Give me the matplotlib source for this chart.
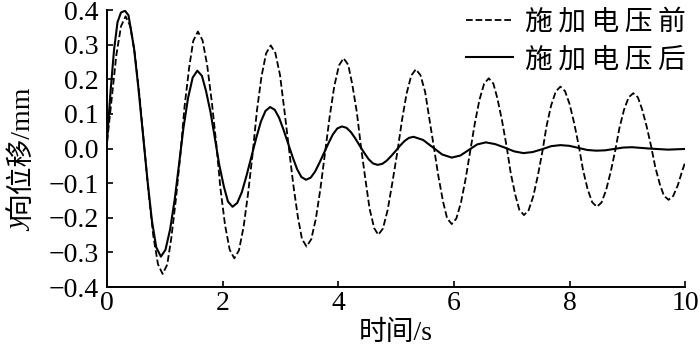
import matplotlib
matplotlib.use("Agg")
import matplotlib.pyplot as plt

# 施加电压前 (dashed), values
t_before = [0.00, 0.08, 0.16, 0.24, 0.32,
            0.40, 0.48, 0.56, 0.64, 0.72, 0.80, 0.88, 0.96,
            1.04, 1.11, 1.19, 1.27, 1.34, 1.42, 1.49, 1.57,
            1.65, 1.73, 1.81, 1.89, 1.96, 2.04, 2.12, 2.20,
            2.28, 2.36, 2.44, 2.52, 2.59, 2.67, 2.75, 2.83,
            2.91, 2.99, 3.06, 3.14, 3.22, 3.30, 3.37, 3.45,
            3.53, 3.61, 3.69, 3.77, 3.85, 3.93, 4.01, 4.09,
            4.17, 4.24, 4.32, 4.39, 4.47, 4.54, 4.62, 4.69,
            4.77, 4.85, 4.93, 5.02, 5.10, 5.18, 5.26, 5.34,
            5.42, 5.50, 5.57, 5.65, 5.73, 5.81, 5.88, 5.96,
            6.04, 6.12, 6.20, 6.28, 6.36, 6.44, 6.52, 6.60,
            6.68, 6.75, 6.83, 6.91, 6.98, 7.06, 7.13, 7.21,
            7.29, 7.37, 7.45, 7.53, 7.60, 7.68, 7.76, 7.84,
            7.92, 8.00, 8.08, 8.16, 8.23, 8.31, 8.39, 8.47,
            8.55, 8.63, 8.71, 8.79, 8.86, 8.94, 9.02, 9.10,
            9.18, 9.25, 9.33, 9.41, 9.48, 9.56, 9.63, 9.71,
            9.79, 9.87, 9.94, 10.00]
y_before = [0.020, 0.146, 0.270, 0.353, 0.382,
            0.354, 0.273, 0.152, 0.010, -0.132, -0.253, -0.334, -0.362,
            -0.335, -0.259, -0.146, -0.012, 0.122, 0.235, 0.311, 0.338,
            0.313, 0.242, 0.136, 0.011, -0.115, -0.221, -0.292, -0.317,
            -0.294, -0.227, -0.127, -0.010, 0.108, 0.208, 0.275, 0.298,
            0.276, 0.213, 0.119, 0.008, -0.104, -0.198, -0.261, -0.283,
            -0.262, -0.203, -0.115, -0.011, 0.093, 0.181, 0.240, 0.261,
            0.242, 0.186, 0.104, 0.006, -0.092, -0.174, -0.230, -0.249,
            -0.231, -0.179, -0.102, -0.010, 0.082, 0.159, 0.211, 0.229,
            0.212, 0.164, 0.091, 0.006, -0.080, -0.153, -0.201, -0.218,
            -0.202, -0.156, -0.088, -0.008, 0.073, 0.141, 0.187, 0.203,
            0.188, 0.145, 0.081, 0.006, -0.070, -0.134, -0.177, -0.192,
            -0.178, -0.138, -0.078, -0.007, 0.065, 0.125, 0.165, 0.179,
            0.166, 0.128, 0.072, 0.006, -0.061, -0.117, -0.155, -0.168,
            -0.156, -0.120, -0.067, -0.004, 0.059, 0.112, 0.148, 0.160,
            0.148, 0.115, 0.065, 0.006, -0.053, -0.103, -0.136, -0.148,
            -0.137, -0.106, -0.068, -0.038]

# 施加电压后 (solid)
t_after = [0.00, 0.06, 0.12, 0.18, 0.24, 0.31, 0.37,
           0.465, 0.54, 0.62, 0.70, 0.775, 0.85, 0.93,
           1.01, 1.09, 1.17, 1.245, 1.32, 1.40, 1.48, 1.56,
           1.64, 1.71, 1.79, 1.865, 1.94, 2.02, 2.09, 2.17,
           2.25, 2.33, 2.41, 2.495, 2.58, 2.66, 2.74, 2.82,
           2.90, 2.975, 3.05, 3.13, 3.21, 3.285, 3.36, 3.44,
           3.52, 3.595, 3.67, 3.75, 3.83, 3.905, 3.98, 4.06,
           4.14, 4.215, 4.29, 4.37, 4.45, 4.525, 4.60, 4.68,
           4.76, 4.835, 4.91, 4.99, 5.07, 5.145, 5.22, 5.30,
           5.465, 5.63, 5.795, 5.96,
           6.11, 6.255, 6.40, 6.55,
           6.71, 6.875, 7.04, 7.20,
           7.36, 7.52, 7.68, 7.84,
           7.995, 8.15, 8.305, 8.46,
           8.615, 8.77, 8.925, 9.08,
           9.39, 9.70, 10.00]
y_after = [0.025, 0.166, 0.285, 0.365, 0.393, 0.398, 0.385,
           0.291, 0.177, 0.042, -0.094, -0.208, -0.285, -0.312,
           -0.292, -0.233, -0.146, -0.044, 0.059, 0.146, 0.205, 0.225,
           0.210, 0.167, 0.104, 0.029, -0.047, -0.110, -0.153, -0.168,
           -0.157, -0.126, -0.079, -0.024, 0.031, 0.078, 0.109, 0.120,
           0.112, 0.089, 0.055, 0.015, -0.025, -0.059, -0.082, -0.090,
           -0.084, -0.067, -0.042, -0.013, 0.016, 0.041, 0.058, 0.064,
           0.060, 0.048, 0.030, 0.008, -0.013, -0.031, -0.043, -0.047,
           -0.044, -0.035, -0.022, -0.007, 0.009, 0.022, 0.031, 0.034,
           0.025, 0.004, -0.017, -0.026,
           -0.020, -0.004, 0.012, 0.018,
           0.013, 0.003, -0.008, -0.013,
           -0.010, -0.002, 0.007, 0.010,
           0.008, 0.002, -0.004, -0.006,
           -0.005, -0.001, 0.003, 0.004,
           0.000, -0.003, -0.001]

labels = ["施加电压前", "施加电压后"]
x_ticks = [0, 2, 4, 6, 8, 10]
y_ticks = [-0.4, -0.3, -0.2, -0.1, 0.0, 0.1, 0.2, 0.3, 0.4]
y_tick_labels = ["\u22120.4", "\u22120.3", "\u22120.2", "\u22120.1", "0.0",
                 "0.1", "0.2", "0.3", "0.4"]

FAMILY = ["Liberation Serif", "Noto Sans CJK SC"]
FS = 20


def spaced(s):
    # the reference sets its legend labels with a little letter spacing
    return "\u2009".join(s)


def main():
    plt.rcParams["font.family"] = FAMILY
    plt.rcParams["font.size"] = FS

    fig = plt.figure(figsize=(7, 3.48), dpi=100)
    ax = fig.add_axes([0.153, 0.175, 0.826, 0.796])

    ax.plot(t_before, y_before, color="black", linestyle="--",
            linewidth=1.3, label=spaced(labels[0]))
    ax.plot(t_after, y_after, color="black", linestyle="-",
            linewidth=1.5, label=spaced(labels[1]))

    ax.set_xlim(0, 10)
    ax.set_ylim(-0.4, 0.4)
    ax.set_xticks(x_ticks)
    ax.set_yticks(y_ticks)
    ax.set_yticklabels(y_tick_labels)

    for side in ("top", "right"):
        ax.spines[side].set_visible(False)
    for side in ("left", "bottom"):
        ax.spines[side].set_linewidth(1.4)
    ax.tick_params(direction="in", length=4, width=1.2, labelsize=FS)
    ax.tick_params(axis="y", pad=6)
    ax.tick_params(axis="x", pad=3)

    ax.set_xlabel("时间/s", fontsize=FS, labelpad=3)
    ax.set_ylabel("向位移/mm", fontsize=FS)
    ax.yaxis.set_label_coords(-0.128, 0.49)
    # italic y in front of the ylabel
    ax.annotate("y", xy=(0.5, 0), xycoords=ax.yaxis.label, rotation=90,
                ha="center", va="top", fontsize=FS, fontstyle="italic",
                family="Liberation Serif")

    ax.legend(loc="upper right", bbox_to_anchor=(1.0, 1.0), frameon=False,
              handlelength=1.7, handletextpad=0.4, labelspacing=0.42,
              borderaxespad=0, borderpad=0, prop={"family": FAMILY, "size": FS})

    fig.savefig("out.png", dpi=100)
    plt.close(fig)


if __name__ == "__main__":
    main()
